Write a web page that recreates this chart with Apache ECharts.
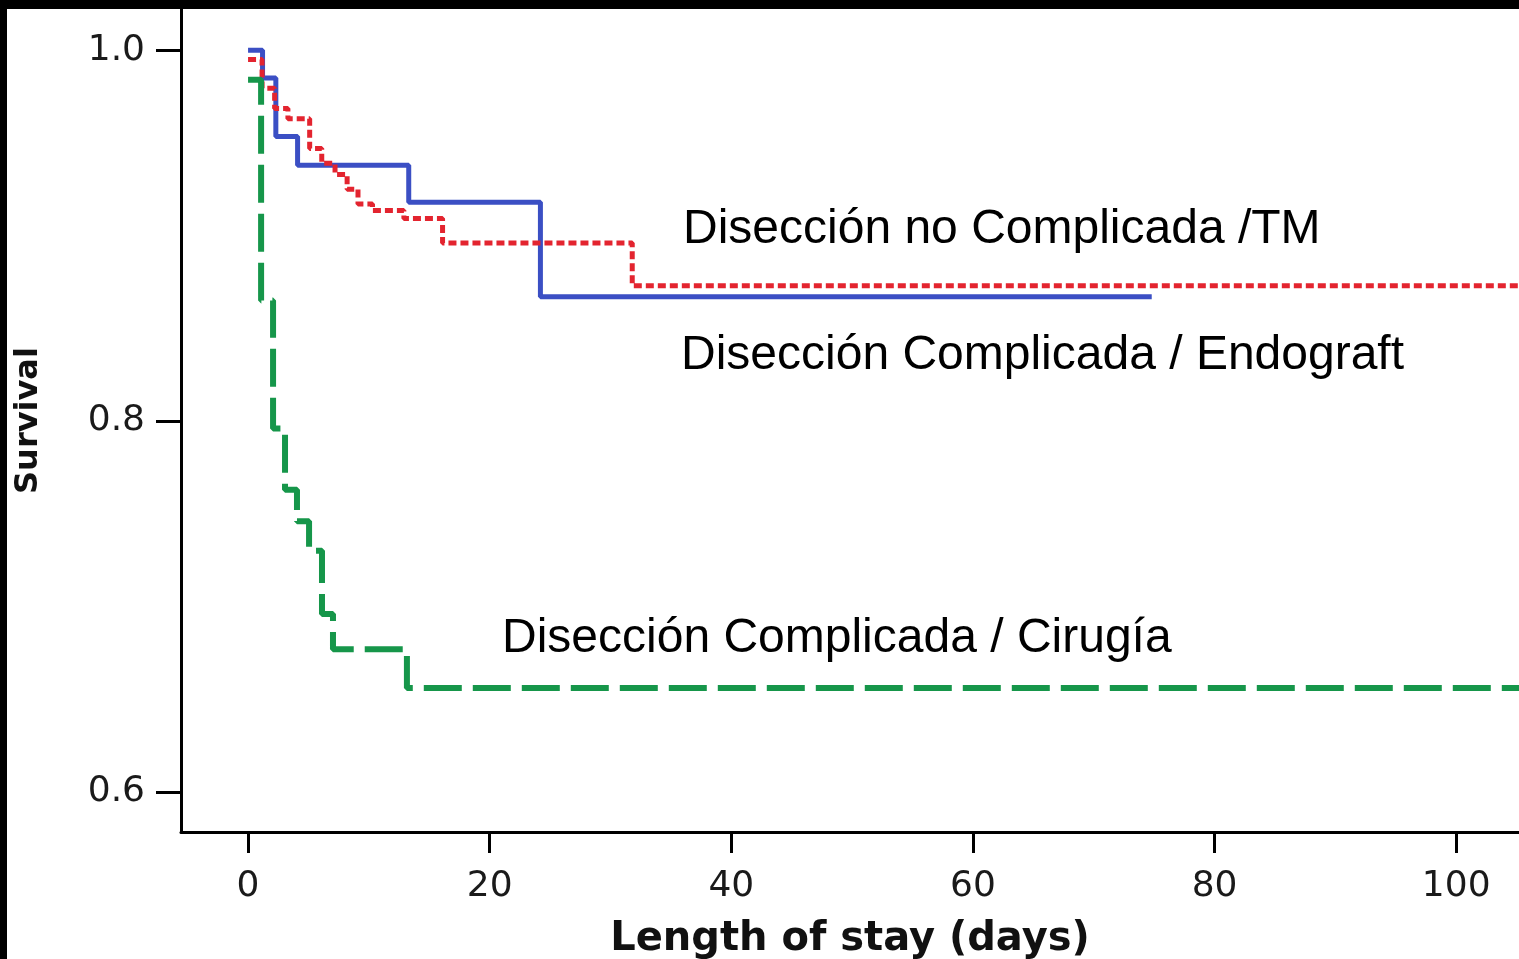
<!DOCTYPE html>
<html>
<head>
<meta charset="utf-8">
<script src="https://cdn.jsdelivr.net/npm/echarts@6/dist/echarts.min.js"></script>
<style>
  html, body { margin: 0; padding: 0; background: #000; }
  #box { position: absolute; left: 7px; top: 9px; width: 1512px; height: 950px; background: #fff; }
</style>
</head>
<body>
<div id="box"></div>
<script>
// ticks
let xTicks = [0, 20, 40, 60, 80, 100];
let yTicks = [0.6, 0.8, 1.0];

// Kaplan-Meier steps [day, survival]
let endograft = [
  [0, 1.0], [1.2, 0.985], [2.3, 0.9535], [4.1, 0.938],
  [13.3, 0.918], [24.2, 0.867], [74.8, 0.867]
];
let tm = [
  [0, 0.995], [1.16, 0.9795], [2.2, 0.9686], [3.3, 0.963], [5.1, 0.947],
  [6.1, 0.939], [7.2, 0.933], [8.2, 0.925], [9.1, 0.917], [10.3, 0.9135],
  [12.9, 0.9092], [16.1, 0.896], [31.8, 0.873], [105.2, 0.873]
];
let cirugia = [
  [0, 0.984], [1.08, 0.865], [2.07, 0.796], [3.06, 0.763], [4.05, 0.746],
  [5.05, 0.73], [6.12, 0.696], [7.03, 0.677], [13.15, 0.656], [105.2, 0.656]
];

let labels = [
  { text: "Disección no Complicada /TM", x: 676, y: 221 },
  { text: "Disección Complicada / Endograft", x: 674, y: 347 },
  { text: "Disección Complicada / Cirugía", x: 495, y: 630 }
];

let chart = echarts.init(document.getElementById("box"), null, { renderer: "canvas" });

let axisText = { fontFamily: "DejaVu Sans", fontSize: 36, color: "#1a1a1a" };

let option = {
  animation: false,
  backgroundColor: "#fff",
  grid: { left: 174, top: 0, right: 0, bottom: 127, containLabel: false, outerBoundsMode: "none" },
  xAxis: {
    type: "value",
    min: -5.55,
    max: 105.2,
    name: "Length of stay (days)",
    nameLocation: "middle",
    nameGap: 88,
    nameTextStyle: { fontFamily: "DejaVu Sans", fontWeight: "bold", fontSize: 40, color: "#111" },
    axisLine: { show: true, onZero: false, lineStyle: { color: "#000", width: 3 } },
    axisTick: { show: true, customValues: xTicks, length: 21, lineStyle: { color: "#000", width: 3 } },
    axisLabel: Object.assign({ customValues: xTicks, margin: 37 }, axisText),
    splitLine: { show: false }
  },
  yAxis: {
    type: "value",
    min: 0.5784,
    max: 1.0222,
    name: "Survival",
    nameLocation: "middle",
    nameGap: 136,
    nameTextStyle: { fontFamily: "DejaVu Sans", fontWeight: "bold", fontSize: 32, color: "#111" },
    axisLine: { show: true, onZero: false, lineStyle: { color: "#000", width: 3 } },
    axisTick: { show: true, customValues: yTicks, length: 25, lineStyle: { color: "#000", width: 3 } },
    axisLabel: Object.assign({ customValues: yTicks, margin: 36, formatter: v => v.toFixed(1) }, axisText),
    splitLine: { show: false }
  },
  series: [
    {
      name: "Disección Complicada / Endograft",
      type: "line",
      step: "end",
      symbol: "none",
      data: endograft,
      lineStyle: { color: "#3b4fc4", width: 5, type: "solid" }
    },
    {
      name: "Disección no Complicada /TM",
      type: "line",
      step: "end",
      symbol: "none",
      data: tm,
      lineStyle: { color: "#e3242f", width: 5, type: [8, 4] }
    },
    {
      name: "Disección Complicada / Cirugía",
      type: "line",
      step: "end",
      symbol: "none",
      data: cirugia,
      lineStyle: { color: "#16964a", width: 6, type: [38, 11] }
    }
  ],
  graphic: labels.map(l => ({
    type: "text",
    left: l.x,
    top: l.y - 24,
    style: {
      text: l.text,
      fill: "#000",
      font: "48px 'Liberation Sans', Arial, sans-serif"
    }
  }))
};

chart.setOption(option);
</script>
</body>
</html>
